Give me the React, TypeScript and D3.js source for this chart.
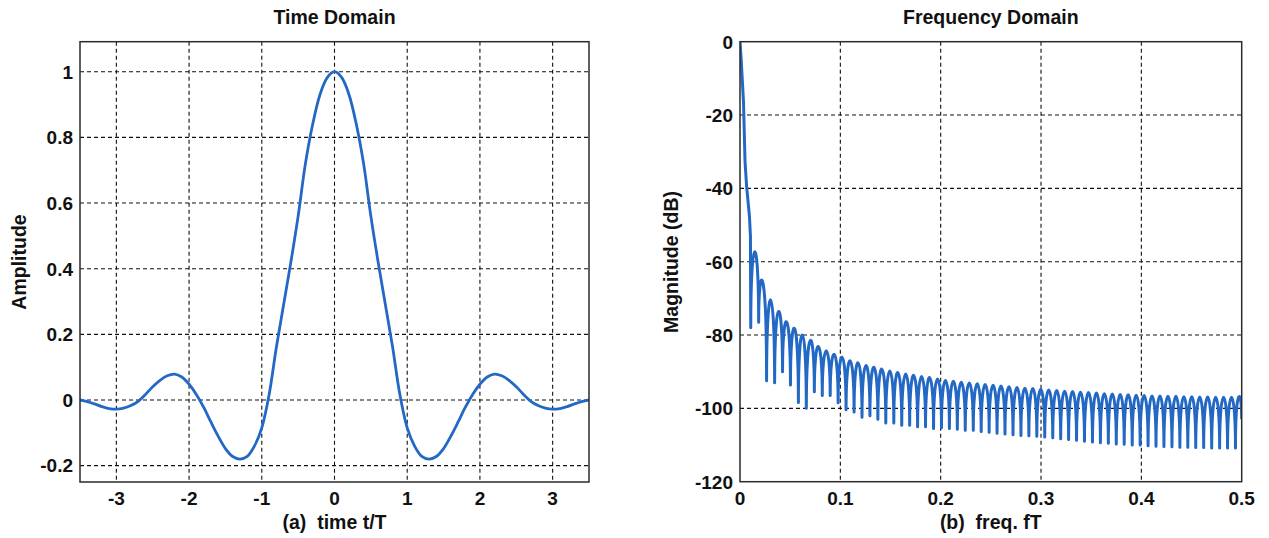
import React from 'react';
import * as d3 from 'd3';

// ---------- Time domain pulse (t >= 0 half, the pulse is symmetric) ----------
const timeT = [0, 0.1, 0.2, 0.3, 0.4, 0.5, 0.6, 0.7, 0.8, 0.9, 1.0, 1.1, 1.2, 1.3, 1.4, 1.5, 1.6, 1.7, 1.8, 1.9, 2.0, 2.1, 2.2, 2.3, 2.4, 2.5, 2.6, 2.7, 2.8, 2.9, 3.0, 3.1, 3.2, 3.3, 3.4, 3.5];
const timeAmp = [1, 0.982, 0.93, 0.84, 0.72, 0.56, 0.42, 0.29, 0.16, 0.015, -0.085, -0.14, -0.172, -0.18, -0.172, -0.148, -0.11, -0.067, -0.022, 0.017, 0.048, 0.07, 0.079, 0.074, 0.06, 0.04, 0.017, -0.004, -0.017, -0.025, -0.028, -0.026, -0.02, -0.012, -0.005, 0];

const timeXTicks = [-3, -2, -1, 0, 1, 2, 3];
const timeYTicks = [-0.2, 0, 0.2, 0.4, 0.6, 0.8, 1];

// ---------- Frequency domain magnitude (dB) ----------
const mainLobeF = [0, 0.0012, 0.0035, 0.005, 0.0066, 0.0094, 0.0104];
const mainLobeDb = [0, -5, -16.5, -32.6, -39.5, -47.6, -53];

const nullFreq = [0.0107, 0.0186, 0.0265, 0.0345, 0.0424, 0.0503, 0.0582, 0.0661, 0.0741, 0.0820, 0.0899, 0.0978, 0.1057, 0.1137, 0.1216, 0.1295, 0.1374, 0.1453, 0.1533, 0.1612, 0.1691, 0.1770, 0.1849, 0.1929, 0.2008, 0.2087, 0.2166, 0.2245, 0.2325, 0.2404, 0.2483, 0.2562, 0.2641, 0.2721, 0.2800, 0.2879, 0.2958, 0.3037, 0.3117, 0.3196, 0.3275, 0.3354, 0.3433, 0.3513, 0.3592, 0.3671, 0.3750, 0.3829, 0.3909, 0.3988, 0.4067, 0.4146, 0.4225, 0.4305, 0.4384, 0.4463, 0.4542, 0.4621, 0.4701, 0.4780, 0.4859, 0.4938];
const nullDb = [-78, -76.5, -92.5, -93, -90, -93.6, -98.4, -100, -95.5, -96.5, -96.5, -98.5, -100.4, -101, -102.4, -102, -103, -104, -104, -104.6, -104.6, -105, -105, -105.5, -105.3, -105.5, -105.7, -106, -106, -106.3, -106.5, -106.8, -107, -107.2, -107.4, -107.5, -107.6, -107.8, -108, -108.3, -108.5, -108.7, -109, -109.2, -109.4, -109.5, -109.7, -109.8, -110, -110, -110.2, -110.3, -110.4, -110.5, -110.6, -110.6, -110.7, -110.7, -110.8, -110.8, -110.8, -110.8];
const peakDb = [-57.3, -65.5, -70.4, -73.6, -76.4, -78.2, -80, -81.5, -83.1, -84.3, -85.3, -86.1, -87, -87.6, -88.3, -88.8, -89.3, -89.8, -90.2, -90.6, -91, -91.3, -91.6, -92, -92.4, -92.6, -92.9, -93.1, -93.3, -93.5, -93.7, -93.9, -94.1, -94.3, -94.5, -94.6, -94.8, -95, -95.1, -95.3, -95.4, -95.6, -95.7, -95.8, -96, -96.1, -96.2, -96.3, -96.4, -96.5, -96.6, -96.6, -96.7, -96.7, -96.8, -96.8, -96.9, -96.9, -97, -97, -97, -97];
const endF = 0.5;
const endDb = -103;

const freqXTicks = [0, 0.1, 0.2, 0.3, 0.4, 0.5];
const freqYTicks = [-120, -100, -80, -60, -40, -20, 0];

const W = 1269;
const H = 538;
const FONT = "'Liberation Sans', Arial, Helvetica, sans-serif";
const BLUE = '#2268c4';
const FRAME = '#2a2a2a';

export default function App() {
  // Left panel scales
  const xL = d3.scaleLinear().domain([-3.5, 3.5]).range([80, 589]);
  const yL = d3.scaleLinear().domain([-0.2498, 1.0914]).range([482, 41.7]);
  // Right panel scales
  const xR = d3.scaleLinear().domain([0, 0.5]).range([740, 1241.7]);
  const yR = d3.scaleLinear().domain([-120, 0]).range([481.7, 41.7]);

  // Full symmetric pulse
  const pts: [number, number][] = [];
  for (let i = timeT.length - 1; i >= 1; i--) pts.push([-timeT[i], timeAmp[i]]);
  for (let i = 0; i < timeT.length; i++) pts.push([timeT[i], timeAmp[i]]);
  const timeLine = d3
    .line<[number, number]>()
    .x((d) => xL(d[0]))
    .y((d) => yL(d[1]))
    .curve(d3.curveCatmullRom.alpha(0.5));
  const timePath = timeLine(pts) || '';

  // Frequency path: main lobe then sidelobes (dome between consecutive nulls)
  const p = d3.path();
  mainLobeF.forEach((f, i) => {
    if (i === 0) p.moveTo(xR(f), yR(mainLobeDb[i]));
    else p.lineTo(xR(f), yR(mainLobeDb[i]));
  });
  p.lineTo(xR(nullFreq[0]), yR(nullDb[0]));
  for (let k = 0; k < nullFreq.length; k++) {
    const x0 = xR(nullFreq[k]);
    const y0 = yR(nullDb[k]);
    const last = k === nullFreq.length - 1;
    const x1 = last ? xR(endF) : xR(nullFreq[k + 1]);
    const y1 = last ? yR(endDb) : yR(nullDb[k + 1]);
    const yp = yR(peakDb[k]);
    const yc = (8 * yp - y0 - y1) / 6;
    p.bezierCurveTo(x0, yc, x1, yc, x1, y1);
  }
  const freqPath = p.toString();

  const grid = { stroke: '#111', strokeWidth: 1.1, strokeDasharray: '4,3' };
  const tickStyle: React.CSSProperties = { fontFamily: FONT, fontWeight: 700, fontSize: 19, fill: '#111' };
  const labelStyle: React.CSSProperties = { fontFamily: FONT, fontWeight: 700, fontSize: 19.5, fill: '#111', whiteSpace: 'pre' };

  return (
    <svg width={W} height={H} style={{ position: 'absolute', left: 0, top: 0, background: '#fff' }}>
      <defs>
        <clipPath id="clipL">
          <rect x={80} y={41.7} width={509} height={440.3} />
        </clipPath>
        <clipPath id="clipR">
          <rect x={740} y={41.7} width={501.7} height={440} />
        </clipPath>
      </defs>
      <rect x={0} y={0} width={W} height={H} fill="#fff" />

      {/* ---------- Left panel ---------- */}
      <g>
        {timeXTicks.map((t) => (
          <line key={'lgx' + t} x1={xL(t)} x2={xL(t)} y1={41.7} y2={482} {...grid} />
        ))}
        {timeYTicks.map((v) => (
          <line key={'lgy' + v} x1={80} x2={589} y1={yL(v)} y2={yL(v)} {...grid} />
        ))}
        <path d={timePath} fill="none" stroke={BLUE} strokeWidth={2.8} clipPath="url(#clipL)" />
        <rect x={80} y={41.7} width={509} height={440.3} fill="none" stroke={FRAME} strokeWidth={1.5} />
        {timeXTicks.map((t) => (
          <text key={'ltx' + t} x={xL(t)} y={505} textAnchor="middle" style={tickStyle}>
            {String(t)}
          </text>
        ))}
        {timeYTicks.map((v) => (
          <text key={'lty' + v} x={73} y={yL(v)} dy="0.36em" textAnchor="end" style={tickStyle}>
            {String(v)}
          </text>
        ))}
        <text x={334.5} y={24} textAnchor="middle" style={labelStyle}>
          Time Domain
        </text>
        <text x={334.5} y={529} textAnchor="middle" style={labelStyle}>
          {'(a)  time t/T'}
        </text>
        <text transform="translate(26,262) rotate(-90)" textAnchor="middle" style={labelStyle}>
          Amplitude
        </text>
      </g>

      {/* ---------- Right panel ---------- */}
      <g>
        {freqXTicks.slice(1, -1).map((f) => (
          <line key={'rgx' + f} x1={xR(f)} x2={xR(f)} y1={41.7} y2={481.7} {...grid} />
        ))}
        {freqYTicks.slice(1, -1).map((v) => (
          <line key={'rgy' + v} x1={740} x2={1241.7} y1={yR(v)} y2={yR(v)} {...grid} />
        ))}
        <path d={freqPath} fill="none" stroke={BLUE} strokeWidth={3} strokeLinejoin="round" clipPath="url(#clipR)" />
        <rect x={740} y={41.7} width={501.7} height={440} fill="none" stroke={FRAME} strokeWidth={1.5} />
        {freqXTicks.map((f) => (
          <text key={'rtx' + f} x={xR(f)} y={505} textAnchor="middle" style={tickStyle}>
            {String(f)}
          </text>
        ))}
        {freqYTicks.map((v) => (
          <text key={'rty' + v} x={733} y={yR(v)} dy="0.36em" textAnchor="end" style={tickStyle}>
            {String(v)}
          </text>
        ))}
        <text x={990.8} y={24} textAnchor="middle" style={labelStyle}>
          Frequency Domain
        </text>
        <text x={990.8} y={529} textAnchor="middle" style={labelStyle}>
          {'(b)  freq. fT'}
        </text>
        <text transform="translate(678,262) rotate(-90)" textAnchor="middle" style={labelStyle}>
          Magnitude (dB)
        </text>
      </g>
    </svg>
  );
}
